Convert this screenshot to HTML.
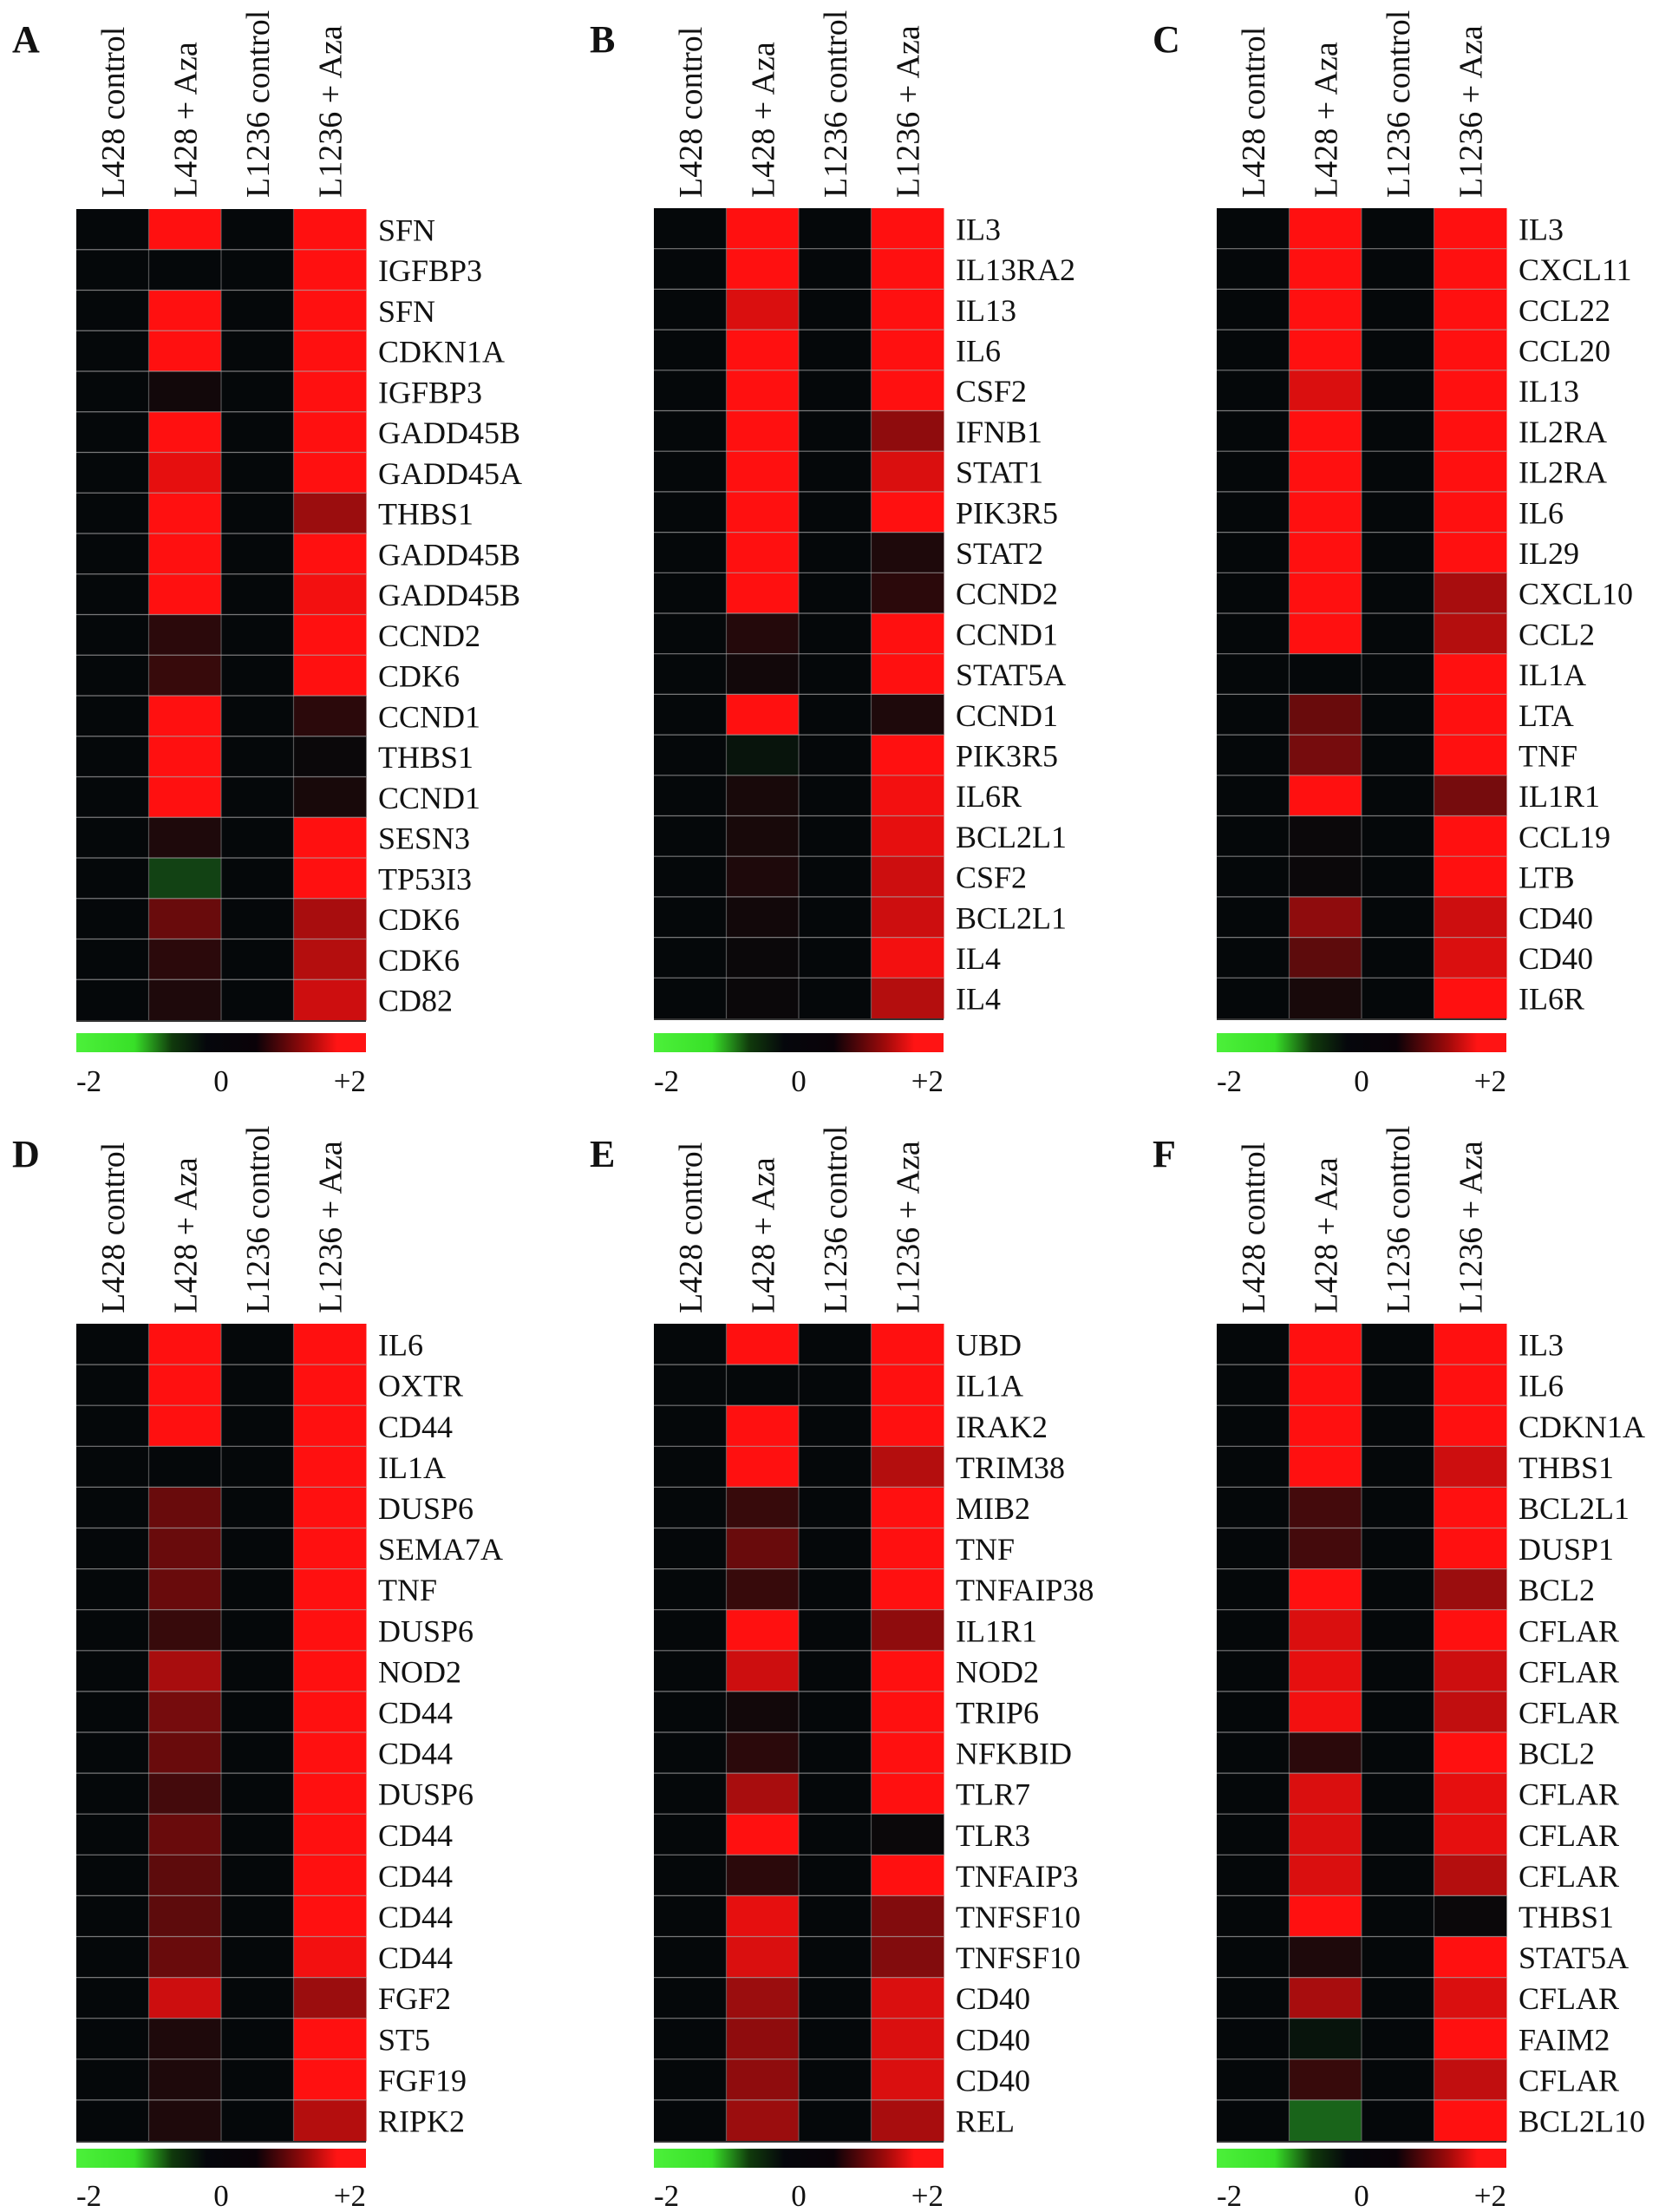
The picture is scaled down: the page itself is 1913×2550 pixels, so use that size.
<!DOCTYPE html>
<html><head><meta charset="utf-8">
<style>
html,body{margin:0;padding:0;background:#fff;}
svg{display:block;font-family:"Liberation Serif",serif;}
</style></head>
<body>
<svg id="fig" width="1913" height="2550" viewBox="0 0 1913 2550" xmlns="http://www.w3.org/2000/svg">
<defs>
<linearGradient id="cbar" x1="0" x2="1" y1="0" y2="0">
<stop offset="0" stop-color="#4cf03a"/><stop offset="0.2" stop-color="#38e028"/><stop offset="0.33" stop-color="#103a0c"/>
<stop offset="0.45" stop-color="#05070c"/><stop offset="0.62" stop-color="#0a0208"/><stop offset="0.8" stop-color="#a00a0a"/>
<stop offset="0.9" stop-color="#ff1414"/><stop offset="1" stop-color="#ff1414"/>
</linearGradient>
</defs>
</svg>
<script>
const columns = ["L428 control","L428 + Aza","L1236 control","L1236 + Aza"];
const tickLabels = ["-2","0","+2"];
const genesA = ["SFN","IGFBP3","SFN","CDKN1A","IGFBP3","GADD45B","GADD45A","THBS1","GADD45B","GADD45B","CCND2","CDK6","CCND1","THBS1","CCND1","SESN3","TP53I3","CDK6","CDK6","CD82"];
const valuesA = [[0,2,0,2],[0,0,0,2],[0,2,0,2],[0,2,0,2],[0,0.1,0,2],[0,2,0,2],[0,1.8,0,2],[0,2,0,1.2],[0,2,0,2],[0,2,0,1.9],[0,0.3,0,2],[0,0.4,0,2],[0,2,0,0.3],[0,2,0,0.05],[0,2,0,0.15],[0,0.2,0,2],[0,-0.5,0,2],[0,0.8,0,1.3],[0,0.3,0,1.4],[0,0.2,0,1.6]];
const genesB = ["IL3","IL13RA2","IL13","IL6","CSF2","IFNB1","STAT1","PIK3R5","STAT2","CCND2","CCND1","STAT5A","CCND1","PIK3R5","IL6R","BCL2L1","CSF2","BCL2L1","IL4","IL4"];
const valuesB = [[0,2,0,2],[0,2,0,2],[0,1.7,0,2],[0,2,0,2],[0,2,0,2],[0,2,0,1.1],[0,2,0,1.7],[0,2,0,2],[0,2,0,0.2],[0,2,0,0.3],[0,0.25,0,2],[0,0.1,0,2],[0,2,0,0.2],[0,-0.1,0,2],[0,0.15,0,1.9],[0,0.15,0,1.8],[0,0.2,0,1.6],[0,0.1,0,1.6],[0,0.05,0,1.9],[0,0.05,0,1.4]];
const genesC = ["IL3","CXCL11","CCL22","CCL20","IL13","IL2RA","IL2RA","IL6","IL29","CXCL10","CCL2","IL1A","LTA","TNF","IL1R1","CCL19","LTB","CD40","CD40","IL6R"];
const valuesC = [[0,2,0,2],[0,2,0,2],[0,2,0,2],[0,2,0,2],[0,1.7,0,2],[0,2,0,2],[0,2,0,2],[0,2,0,2],[0,2,0,2],[0,2,0,1.3],[0,2,0,1.4],[0,0,0,2],[0,0.8,0,2],[0,0.9,0,2],[0,2,0,0.9],[0,0.05,0,2],[0,0.05,0,2],[0,1.1,0,1.6],[0,0.7,0,1.7],[0,0.15,0,2]];
const genesD = ["IL6","OXTR","CD44","IL1A","DUSP6","SEMA7A","TNF","DUSP6","NOD2","CD44","CD44","DUSP6","CD44","CD44","CD44","CD44","FGF2","ST5","FGF19","RIPK2"];
const valuesD = [[0,2,0,2],[0,2,0,2],[0,2,0,2],[0,0,0,2],[0,0.8,0,2],[0,0.8,0,2],[0,0.8,0,2],[0,0.4,0,2],[0,1.3,0,2],[0,0.9,0,2],[0,0.8,0,2],[0,0.5,0,2],[0,0.8,0,2],[0,0.7,0,2],[0,0.7,0,2],[0,0.8,0,1.9],[0,1.6,0,1.2],[0,0.2,0,2],[0,0.2,0,2],[0,0.2,0,1.4]];
const genesE = ["UBD","IL1A","IRAK2","TRIM38","MIB2","TNF","TNFAIP38","IL1R1","NOD2","TRIP6","NFKBID","TLR7","TLR3","TNFAIP3","TNFSF10","TNFSF10","CD40","CD40","CD40","REL"];
const valuesE = [[0,2,0,2],[0,0,0,2],[0,2,0,2],[0,2,0,1.4],[0,0.4,0,2],[0,0.8,0,2],[0,0.4,0,2],[0,2,0,1.1],[0,1.6,0,2],[0,0.1,0,2],[0,0.3,0,2],[0,1.3,0,2],[0,2,0,0.05],[0,0.3,0,2],[0,1.8,0,1.0],[0,1.7,0,1.0],[0,1.2,0,1.7],[0,1.1,0,1.7],[0,1.1,0,1.7],[0,1.2,0,1.3]];
const genesF = ["IL3","IL6","CDKN1A","THBS1","BCL2L1","DUSP1","BCL2","CFLAR","CFLAR","CFLAR","BCL2","CFLAR","CFLAR","CFLAR","THBS1","STAT5A","CFLAR","FAIM2","CFLAR","BCL2L10"];
const valuesF = [[0,2,0,2],[0,2,0,2],[0,2,0,2],[0,2,0,1.6],[0,0.5,0,2],[0,0.5,0,2],[0,2,0,1.2],[0,1.7,0,2],[0,1.8,0,1.6],[0,1.9,0,1.5],[0,0.3,0,2],[0,1.7,0,1.8],[0,1.7,0,1.8],[0,1.7,0,1.4],[0,2,0,0.05],[0,0.2,0,2],[0,1.3,0,1.7],[0,-0.1,0,2],[0,0.4,0,1.5],[0,-0.8,0,2]];

const NS = "http://www.w3.org/2000/svg";
const svg = document.getElementById('fig');
function mk(tag, attrs, parent){const e=document.createElementNS(NS,tag);for(const k in attrs)e.setAttribute(k,attrs[k]);(parent||svg).appendChild(e);return e;}
function color(v){
  if(v>=0){const t=Math.min(v/2,1);return `rgb(${Math.round(5+250*t)},${Math.round(8+8*t)},${Math.round(10+6*t)})`;}
  const t=Math.min(-v/2,1);return `rgb(${Math.round(5+50*t)},${Math.round(8+230*t)},${Math.round(10+40*t)})`;
}
const panels = [
 {id:"A",genes:genesA,vals:valuesA,x:88,top:241,bottom:1176,cb:1191,tick:1258,hdr:228,ly:60},
 {id:"B",genes:genesB,vals:valuesB,x:754,top:240,bottom:1174,cb:1191,tick:1258,hdr:228,ly:60},
 {id:"C",genes:genesC,vals:valuesC,x:1403,top:240,bottom:1174,cb:1191,tick:1258,hdr:228,ly:60},
 {id:"D",genes:genesD,vals:valuesD,x:88,top:1526,bottom:2468,cb:2477,tick:2543,hdr:1514,ly:1345},
 {id:"E",genes:genesE,vals:valuesE,x:754,top:1526,bottom:2468,cb:2477,tick:2543,hdr:1514,ly:1345},
 {id:"F",genes:genesF,vals:valuesF,x:1403,top:1526,bottom:2468,cb:2477,tick:2543,hdr:1514,ly:1345}
];
const W=334;
panels.forEach(p=>{
  const g=mk('g',{});
  
  
  const lab=mk('text',{x:p.x-74,y:p.ly,'font-size':44,'font-weight':'bold',fill:'#111'},g);
  lab.textContent=p.id;
  
  
  const cw=W/columns.length, n=p.genes.length, rh=(p.bottom-p.top)/n;
  const xs=c=>p.x+c*cw, ys=r=>p.top+r*rh;
  columns.forEach((c,i)=>{
    const cx=xs(i)+cw/2+13;
    const t=mk('text',{x:0,y:0,transform:`translate(${cx},${p.hdr}) rotate(-90)`,'font-size':38,fill:'#111'},g);
    t.textContent=c;
    
    
  });
  p.vals.forEach((row,r)=>{
    row.forEach((v,c)=>{
      const rc=mk('rect',{x:xs(c),y:ys(r),width:cw+0.5,height:rh+0.5,fill:color(v)},g);
      
      
    });
    const t=mk('text',{x:p.x+W+14,y:ys(r)+rh/2+13,'font-size':36,fill:'#111'},g);
    t.textContent=p.genes[r];
    
    
  });
  for(let c=1;c<columns.length;c++) mk('line',{x1:xs(c),x2:xs(c),y1:p.top,y2:p.bottom,stroke:'#777','stroke-width':1.2,'stroke-opacity':0.7},g);
  for(let r=1;r<n;r++) mk('line',{x1:p.x,x2:p.x+W,y1:ys(r),y2:ys(r),stroke:'#aaa','stroke-width':1.2,'stroke-opacity':0.7},g);
  mk('line',{x1:p.x,x2:p.x+W,y1:p.bottom+1,y2:p.bottom+1,stroke:'#333','stroke-width':2},g);
  const cb=mk('rect',{x:p.x,y:p.cb,width:W,height:22,fill:'url(#cbar)'},g);
  
  
  tickLabels.forEach((tl,i)=>{
    const anchor=i===0?'start':(i===2?'end':'middle');
    const t=mk('text',{x:p.x+i*W/2,y:p.tick,'font-size':35,fill:'#111','text-anchor':anchor},g);
    t.textContent=tl;
    
    
  });
});
</script>
</body></html>
